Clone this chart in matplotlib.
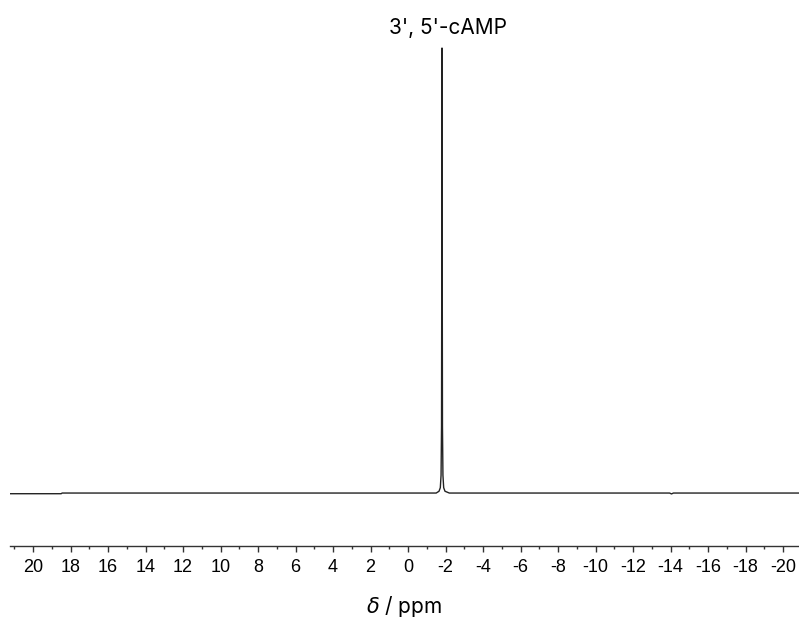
import matplotlib.pyplot as plt
from matplotlib.ticker import MultipleLocator

# spectrum (ppm, relative intensity)
ppm = [21.2, 18.5, 18.45, 10.0, 2.0, -1.5, -1.65, -1.72, -1.76, -1.785,
       -1.80, -1.81, -1.82, -1.835, -1.86, -1.9, -1.97, -2.2, -8.0, -13.95,
       -14.05, -14.15, -20.9]
intensity = [-0.0015, -0.0015, 0.0, 0.0, 0.0, 0.0, 0.004, 0.012, 0.04, 0.15,
             0.6, 1.0, 0.6, 0.15, 0.04, 0.012, 0.004, 0.0, 0.0, 0.0, -0.002,
             0.0, 0.0]
peak_label = "3', 5'-cAMP"

fig = plt.figure(figsize=(7.99, 6.21), dpi=100)
ax = fig.add_axes([10 / 799, 1 - 546 / 621, 789 / 799, 506 / 621])

ax.plot(ppm, intensity, color='#222222', lw=1.0)
ax.set_xlim(21.23, -20.85)
ax.set_ylim(-0.119, 1.018)

for s in ['top', 'left', 'right']:
    ax.spines[s].set_visible(False)
ax.spines['bottom'].set_linewidth(1.0)
ax.spines['bottom'].set_color('#333333')
ax.set_yticks([])

ax.xaxis.set_major_locator(MultipleLocator(2))
ax.xaxis.set_minor_locator(MultipleLocator(1))
ax.tick_params(axis='x', which='major', length=4, width=1, pad=5,
               color='#333333', labelsize=13)
ax.tick_params(axis='x', which='minor', length=2, width=1, color='#333333')
for lab in ax.get_xticklabels():
    lab.set_fontfamily('Liberation Sans')
ax.xaxis.set_major_formatter(plt.FuncFormatter(lambda v, p: '%d' % round(v)))

ax.set_xlabel(r'$\delta$ / ppm', fontsize=15, family='Inter', labelpad=13)

fig.text(448 / 799, 1 - 28 / 621, peak_label, fontsize=15, family='Inter',
         ha='center', va='center')

fig.savefig('out.png', dpi=100)
